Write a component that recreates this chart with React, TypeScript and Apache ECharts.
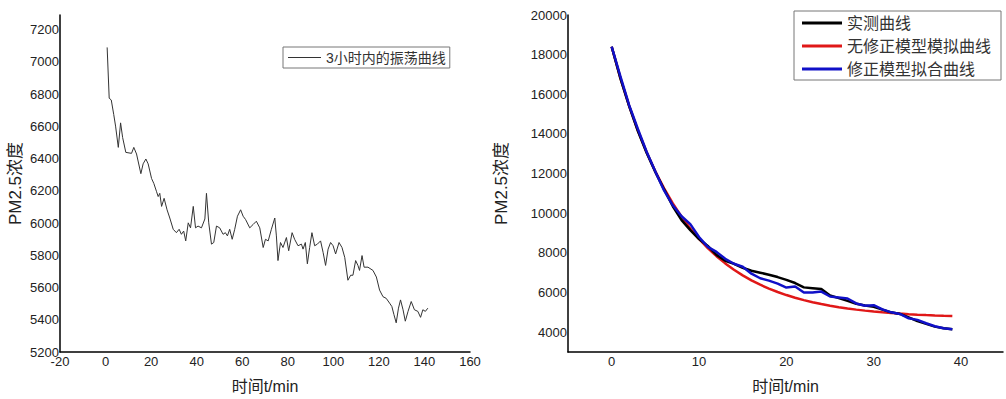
import React, { useEffect, useRef } from "react";
import * as echarts from "echarts";

const leftName = "3小时内的振荡曲线";
const leftT = [
  0.7, 1.6, 2.5, 3.6, 4.4, 5.6, 6.6, 7.5, 8.9, 11.4,
  12.4, 13.6, 15.5, 16.5, 17.7, 18.7, 20.2, 21.2, 22.4, 23.1,
  23.8, 24.6, 25.7, 27, 28.2, 29.7, 31.1, 32.3, 33.3, 34.3,
  35.2, 36.3, 37.3, 38.5, 39.5, 40.6, 42.1, 43.6, 44.3, 45.3,
  46.5, 47.5, 48.7, 50.1, 51.6, 52.6, 53.5, 54.5, 55.6, 56.7,
  57.9, 59.3, 60.4, 61.5, 63.3, 64.8, 66.2, 67.7, 69.2, 70.2,
  71.4, 72.8, 74.3, 75, 75.7, 76.8, 77.9, 79.4, 80.4, 81.9,
  83, 84.5, 86, 86.7, 87.7, 88.6, 89.6, 90.6, 91.8, 93,
  94.4, 95.5, 96.6, 97.7, 98.8, 99.9, 101, 102.5, 103.8, 105,
  106.4, 107.6, 108.6, 109.8, 110.8, 111.5, 112.6, 113.5, 115.2, 117.4,
  118.9, 120.3, 121.8, 123.2, 124.7, 125.7, 126.6, 127.6, 128.6, 129.5,
  130.6, 131.6, 132.8, 134.2, 135.6, 137.1, 138.3, 139.3, 140.4, 141.5,
];
const leftV = [
  7089, 6774, 6763, 6672, 6601, 6469, 6621, 6530, 6438, 6432,
  6469, 6428, 6306, 6367, 6397, 6367, 6276, 6245, 6194, 6164,
  6184, 6103, 6153, 6082, 6031, 5961, 5940, 5961, 5930, 5950,
  5889, 6001, 5970, 6103, 5970, 5981, 5970, 6025, 6184, 6001,
  5869, 5879, 5981, 5970, 5930, 5940, 5920, 5961, 5899, 5961,
  6042, 6082, 6042, 6021, 5970, 5991, 6011, 5970, 5848, 5899,
  5889, 5961, 6031, 5920, 5767, 5879, 5848, 5910, 5828, 5940,
  5899, 5859, 5869, 5838, 5879, 5747, 5848, 5940, 5859, 5869,
  5889, 5818, 5737, 5838, 5879, 5859, 5808, 5879, 5848, 5787,
  5645, 5676, 5676, 5767, 5737, 5706, 5798, 5726, 5726, 5706,
  5665, 5584, 5543, 5533, 5503, 5482, 5432, 5381, 5472, 5523,
  5462, 5391, 5452, 5513, 5462, 5452, 5415, 5462, 5452, 5472,
];

const rightNames = ["实测曲线", "无修正模型模拟曲线", "修正模型拟合曲线"];
const rightT = [
  0, 1, 2, 3, 4, 5, 6, 7, 8, 9,
  10, 11, 12, 13, 14, 15, 16, 17, 18, 19,
  20, 21, 22, 23, 24, 25, 26, 27, 28, 29,
  30, 31, 32, 33, 34, 35, 36, 37, 38, 39,
];
const measured = [
  18400, 16800, 15400, 14150, 13050, 12080, 11200, 10350, 9650, 9150,
  8700, 8350, 7900, 7600, 7450, 7250, 7100, 7000, 6900, 6780,
  6640, 6480, 6260, 6220, 6180, 5850, 5720, 5580, 5430, 5350,
  5280, 5140, 5000, 4920, 4750, 4560, 4420, 4280, 4200, 4150,
];
const uncorrected = [
  18400, 16815, 15413, 14174, 13078, 12108, 11251, 10493, 9823, 9231,
  8706, 8243, 7833, 7470, 7150, 6866, 6616, 6394, 6198, 6025,
  5872, 5736, 5616, 5510, 5417, 5334, 5260, 5196, 5138, 5087,
  5043, 5003, 4968, 4937, 4910, 4885, 4864, 4845, 4828, 4813,
];
const corrected = [
  18400, 16900, 15450, 14250, 13100, 12100, 11150, 10400, 9850, 9450,
  8800, 8300, 8050, 7700, 7450, 7300, 6950, 6720, 6600, 6450,
  6250, 6300, 6000, 6000, 6050, 5800, 5750, 5700, 5450, 5330,
  5360, 5150, 5000, 4920, 4700, 4620, 4450, 4300, 4200, 4150,
];
const rightColors = ["#000000", "#e01818", "#1010c8"];

const FONT = '"Liberation Sans", Arial, "Noto Sans CJK SC", sans-serif';
const TXT = "#222";

export default function App() {
  const ref = useRef<HTMLDivElement>(null);
  useEffect(() => {
    if (!ref.current) return;
    const chart = echarts.init(ref.current, undefined, { renderer: "svg" });
    const axisLine = { show: true, onZero: false, lineStyle: { color: "#000", width: 1.5 } };
    const label = (fn: (v: number) => string, margin: number) => ({
      color: TXT,
      fontSize: 13,
      fontFamily: FONT,
      margin,
      formatter: fn,
    });
    const nameStyle = { color: TXT, fontSize: 16, fontFamily: FONT };
    const rightSeries = [measured, uncorrected, corrected].map((arr, i) => ({
      name: rightNames[i],
      type: "line",
      xAxisIndex: 1,
      yAxisIndex: 1,
      showSymbol: false,
      symbol: "none",
      lineStyle: { color: rightColors[i], width: 2.5 },
      itemStyle: { color: rightColors[i] },
      data: rightT.map((t, j) => [t, arr[j]]),
      z: i === 1 ? 2 : i === 0 ? 3 : 4,
    }));
    chart.setOption({
      animation: false,
      textStyle: { fontFamily: FONT },
      grid: [
        { left: 60, top: 15, width: 410, height: 343 },
        { left: 568, top: 15, width: 438, height: 342 },
      ],
      legend: [
        {
          data: [leftName],
          left: 283,
          top: 47,
          orient: "vertical",
          icon: "rect",
          itemWidth: 33,
          itemHeight: 1,
          padding: [3, 4, 3, 5],
          borderColor: "#777",
          borderWidth: 1,
          textStyle: { color: "#333", fontSize: 14, fontFamily: FONT, lineHeight: 15 },
          selectedMode: false,
        },
        {
          data: rightNames,
          left: 794,
          top: 11,
          orient: "vertical",
          icon: "rect",
          itemWidth: 40,
          itemHeight: 3,
          itemGap: 7,
          padding: [4, 10, 3, 8],
          borderColor: "#777",
          borderWidth: 1,
          textStyle: { color: "#333", fontSize: 16, fontFamily: FONT, lineHeight: 16 },
          selectedMode: false,
        },
      ],
      xAxis: [
        {
          type: "value",
          gridIndex: 0,
          min: -20,
          max: 160,
          interval: 20,
          axisLine,
          axisTick: { show: false },
          splitLine: { show: false },
          axisLabel: label((v) => String(v), 3),
          name: "时间t/min",
          nameLocation: "middle",
          nameGap: 26,
          nameTextStyle: nameStyle,
        },
        {
          type: "value",
          gridIndex: 1,
          min: -5,
          max: 44.8,
          interval: 5,
          axisLine,
          axisTick: { show: false },
          splitLine: { show: false },
          axisLabel: label((v) => (Math.abs(v % 10) < 1e-6 ? String(v) : ""), 3),
          name: "时间t/min",
          nameLocation: "middle",
          nameGap: 26,
          nameTextStyle: nameStyle,
        },
      ],
      yAxis: [
        {
          type: "value",
          gridIndex: 0,
          min: 5200,
          max: 7290,
          interval: 200,
          axisLine,
          axisTick: { show: false },
          splitLine: { show: false },
          axisLabel: label((v) => (v % 200 === 0 ? String(v) : ""), 1),
          name: "PM2.5浓度",
          nameLocation: "middle",
          nameGap: 36,
          nameTextStyle: { ...nameStyle, fontSize: 17 },
        },
        {
          type: "value",
          gridIndex: 1,
          min: 3000,
          max: 20000,
          interval: 1000,
          axisLine,
          axisTick: { show: false },
          splitLine: { show: false },
          axisLabel: label((v) => (v % 2000 === 0 ? String(v) : ""), 1),
          name: "PM2.5浓度",
          nameLocation: "middle",
          nameGap: 58,
          nameTextStyle: { ...nameStyle, fontSize: 17 },
        },
      ],
      series: [
        {
          name: leftName,
          type: "line",
          xAxisIndex: 0,
          yAxisIndex: 0,
          showSymbol: false,
          symbol: "none",
          lineStyle: { color: "#333", width: 1 },
          itemStyle: { color: "#333" },
          data: leftT.map((t, i) => [t, leftV[i]]),
        },
        ...rightSeries,
      ],
    });
    return () => chart.dispose();
  }, []);
  return (
    <div
      ref={ref}
      style={{ position: "absolute", left: 0, top: 0, width: 1006, height: 399, background: "#fff" }}
    />
  );
}
